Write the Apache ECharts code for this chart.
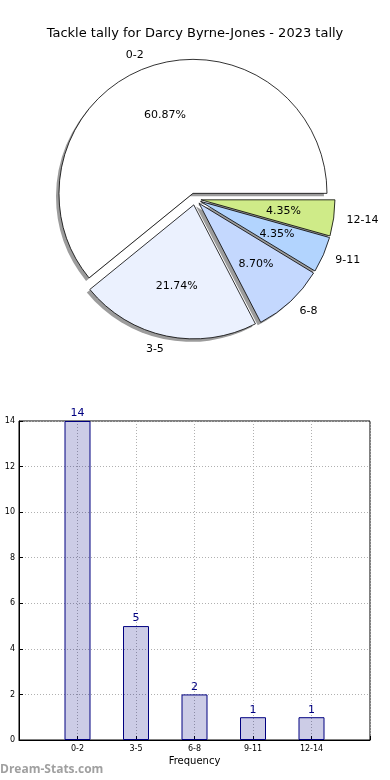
<!DOCTYPE html>
<html>
<head>
<meta charset="utf-8">
<script src="https://cdn.jsdelivr.net/npm/echarts@6/dist/echarts.min.js"></script>
<style>
html,body{margin:0;padding:0;background:#fff;}
#chart{width:390px;height:780px;}
</style>
</head>
<body>
<div id="chart"></div>
<script>
var titleText = 'Tackle tally for Darcy Byrne-Jones - 2023 tally';
var categories = ['0-2', '3-5', '6-8', '9-11', '12-14'];
var counts = [14, 5, 2, 1, 1];
var sliceColors = ['#ffffff', '#ebf1fe', '#c4d8fe', '#b2d4fe', '#cfeb88'];
var yTicks = [0, 2, 4, 6, 8, 10, 12, 14];
var xAxisName = 'Frequency';
var yAxisName = 'Occurrences';
var watermark = 'Dream-Stats.com';

var total = counts.reduce(function(a, b){ return a + b; }, 0);
var R = 134;
var CX = 195, CY = 199;
var FONT = 'DejaVu Sans';

var pieMain = categories.map(function(c, i){
  return {name: c, value: counts[i], selected: true, itemStyle: {color: sliceColors[i]}};
});
var pieShadow = categories.map(function(c, i){
  return {name: c, value: counts[i], selected: true};
});
var pieLabels = categories.map(function(c, i){
  return {name: c, value: counts[i], selected: true};
});
// category axis with padding slots at both ends
var barCats = [''].concat(categories).concat(['']);
var barVals = [null].concat(counts).concat([null]);

var pieCommon = {
  type: 'pie', startAngle: 0, clockwise: false,
  selectedMode: 'multiple', selectedOffset: 6,
  avoidLabelOverlap: false, emphasis: {disabled: true}
};
function pie(extra){ return Object.assign({}, pieCommon, extra); }

var chart = echarts.init(document.getElementById('chart'), null, {renderer: 'canvas'});
chart.setOption({
  animation: false,
  backgroundColor: '#ffffff',
  title: {
    text: titleText, left: 'center', top: 22,
    textStyle: {fontFamily: FONT, fontSize: 13, fontWeight: 'normal', color: '#000'}
  },
  graphic: [{
    type: 'text', left: 0, top: 764,
    style: {text: watermark, fontFamily: 'Open Sans', fontSize: 12, fontWeight: 'bold', fill: '#a0a0a0'}
  }],
  grid: {left: 19, right: 20, top: 421, bottom: 40, show: true, borderColor: '#000', borderWidth: 1,
    containLabel: false, outerBoundsMode: 'none'},
  xAxis: {
    type: 'category', data: barCats, boundaryGap: false,
    name: xAxisName, nameLocation: 'middle', nameGap: 16,
    nameTextStyle: {fontFamily: FONT, fontSize: 10, color: '#000'},
    axisLine: {lineStyle: {color: '#000'}},
    axisTick: {show: true, inside: true, length: 4, interval: 0, lineStyle: {color: '#000'}},
    axisLabel: {interval: 0, fontFamily: FONT, fontSize: 8, color: '#000', margin: 5},
    splitLine: {show: true, interval: 0, lineStyle: {color: '#b0b0b0', type: [1, 2], width: 1}}
  },
  yAxis: {
    type: 'value', min: 0, max: 14, interval: 2,
    name: yAxisName, nameLocation: 'middle', nameGap: 21, nameRotate: 90,
    nameTextStyle: {fontFamily: FONT, fontSize: 10, color: '#000'},
    axisLine: {show: true, lineStyle: {color: '#000'}},
    axisTick: {show: true, inside: true, length: 4, lineStyle: {color: '#000'}},
    axisLabel: {fontFamily: FONT, fontSize: 8, color: '#000', margin: 4},
    splitLine: {show: true, lineStyle: {color: '#b0b0b0', type: [1, 2], width: 1}}
  },
  series: [
    pie({
      center: [CX - 3, CY + 3], radius: [0, R], z: 1, silent: true,
      itemStyle: {color: '#9c9c9c', borderWidth: 0},
      label: {show: false}, labelLine: {show: false},
      data: pieShadow
    }),
    pie({
      center: [CX, CY], radius: [0, R], z: 2,
      itemStyle: {borderColor: '#000', borderWidth: 0.8},
      label: {show: true, position: 'outside', fontFamily: FONT, fontSize: 11, color: '#000',
        formatter: '{b}', distanceToLabelLine: 0},
      labelLine: {show: false, length: 13, length2: 0},
      data: pieMain
    }),
    pie({
      center: [CX, CY], radius: [0.2 * R, R], z: 3, silent: true,
      itemStyle: {color: 'rgba(0,0,0,0)', borderWidth: 0},
      label: {show: true, position: 'inside', fontFamily: FONT, fontSize: 11, color: '#000',
        formatter: function(p){ return (p.value / total * 100).toFixed(2) + '%'; }},
      labelLine: {show: false},
      data: pieLabels
    }),
    {
      type: 'bar', data: barVals, barWidth: 26,
      itemStyle: {color: 'rgba(0,0,128,0.2)', borderColor: '#000080', borderWidth: 1},
      label: {show: true, position: 'top', distance: 2, fontFamily: FONT, fontSize: 11, color: '#000080'},
      emphasis: {disabled: true}
    }
  ]
});
</script>
</body>
</html>
